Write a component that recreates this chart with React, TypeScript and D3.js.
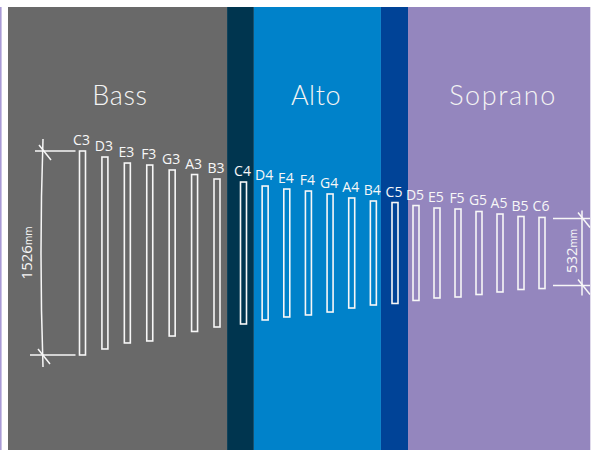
import React from "react";
import * as d3 from "d3";

const notes = ["C3","D3","E3","F3","G3","A3","B3","C4","D4","E4","F4","G4","A4","B4","C5","D5","E5","F5","G5","A5","B5","C6"];
const lengthsMm = [1526,1436,1346,1316,1242,1174,1107,1062,1002,957,927,883,823,778,755,710,673,658,621,583,546,532];
const sectionNames = ["Bass","", "Alto", "", "Soprano"];
const sectionEdges = [-3.33, 6.38, 7.48, 13.35, 14.62, 23.3];
const sectionColors = ["#696969","#00354f","#0082ca","#004397","#9486be"];
const titleCenters = [120, 0, 316, 0, 503];

const W = 598, H = 450;

export default function App() {
  const x = d3.scaleLinear().domain([0, 6, 7, 14, 21]).range([82.5, 217, 243.5, 395, 542]);
  const h = d3.scaleLinear().domain([0, 1526]).range([0, 204]);
  const cy = 253;
  const tubeW = 6;
  const white = "#f7f7f7";

  const bandX = (v: number) => Math.max(8, Math.min(W, x(v)));
  const first = { top: cy - h(lengthsMm[0]) / 2, bot: cy + h(lengthsMm[0]) / 2 };
  const last = { top: cy - h(lengthsMm[21]) / 2, bot: cy + h(lengthsMm[21]) / 2 };
  const lx = 43;
  const rx = 582;

  const cross = (px: number, py: number, key: string) => (
    <line key={key} x1={px - 4} y1={py - 6} x2={px + 8} y2={py + 9} stroke={white} strokeWidth={1.5} />
  );

  return (
    <svg width={W} height={H} style={{ position: "absolute", left: 0, top: 0 }}>
      <rect x={0} y={0} width={W} height={H} fill="#ffffff" />
      <line x1={0.8} y1={7} x2={0.8} y2={H} stroke="#a99bd6" strokeWidth={1.6} />
      {sectionColors.map((c, i) => (
        <rect key={i} x={bandX(sectionEdges[i])} y={7} width={bandX(sectionEdges[i + 1]) - bandX(sectionEdges[i])} height={H - 7} fill={c} />
      ))}
      {sectionNames.map((n, i) => n ? (
        <text key={n} x={titleCenters[i]} y={105} textAnchor="middle" fill="#f3f3f3"
          style={{ fontFamily: "Lato, 'DejaVu Sans', sans-serif", fontWeight: 300, fontSize: 27, letterSpacing: n === "Soprano" ? 1.6 : 0.6 }}>{n}</text>
      ) : null)}
      {notes.map((n, i) => {
        const hh = h(lengthsMm[i]);
        const top = cy - hh / 2;
        return (
          <g key={n}>
            <rect x={x(i) - tubeW / 2} y={top} width={tubeW} height={hh} fill="none" stroke={white} strokeWidth={1.6} />
            <text x={x(i) - 1} y={top - 6} textAnchor="middle" fill={white}
              style={{ fontFamily: "'Open Sans', sans-serif", fontSize: 14 }}>{n}</text>
          </g>
        );
      })}
      <path d={`M${lx},${first.top - 12} Q${lx - 4},${cy} ${lx},${first.bot + 12}`} fill="none" stroke={white} strokeWidth={1.5} />
      <line x1={35} y1={first.top} x2={x(0) - 7} y2={first.top} stroke={white} strokeWidth={1.5} />
      <line x1={30} y1={first.bot} x2={x(0) - 7} y2={first.bot} stroke={white} strokeWidth={1.5} />
      {cross(lx, first.top, "c1")}
      {cross(lx - 1, first.bot, "c2")}
      <text transform={`translate(32,${cy}) rotate(-90)`} textAnchor="middle" fill={white}
        style={{ fontFamily: "'Open Sans', sans-serif", fontSize: 15 }}>
        1526<tspan style={{ fontSize: 10 }}>mm</tspan>
      </text>
      <line x1={rx} y1={last.top - 7} x2={rx} y2={last.bot + 7} stroke={white} strokeWidth={1.5} />
      <line x1={553} y1={last.top + 1} x2={590} y2={last.top + 1} stroke={white} strokeWidth={1.5} />
      <line x1={553} y1={last.bot - 3} x2={590} y2={last.bot - 3} stroke={white} strokeWidth={1.5} />
      {cross(rx, last.top + 1, "c3")}
      {cross(rx, last.bot - 3, "c4")}
      <text transform={`translate(577,${cy - 2}) rotate(-90)`} textAnchor="middle" fill={white}
        style={{ fontFamily: "'Open Sans', sans-serif", fontSize: 15 }}>
        532<tspan style={{ fontSize: 10 }}>mm</tspan>
      </text>
    </svg>
  );
}
